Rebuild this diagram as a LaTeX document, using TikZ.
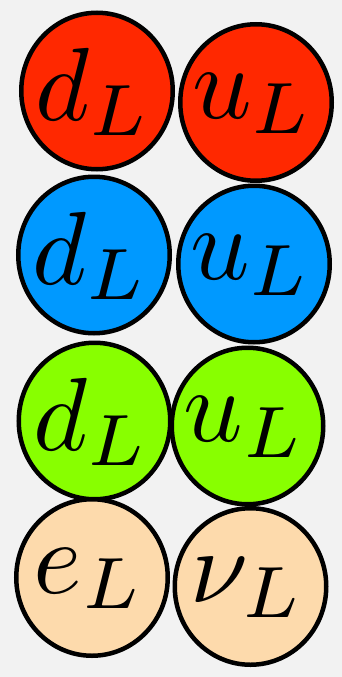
\documentclass[tikz,border=0pt]{standalone}
\usepackage{tikz}
\usetikzlibrary{shapes.geometric}
\definecolor{qred}{RGB}{255,40,0}
\definecolor{qblue}{RGB}{0,153,255}
\definecolor{qgreen}{RGB}{136,255,0}
\definecolor{lepton}{RGB}{253,218,172}
\definecolor{paper}{RGB}{242,242,242}
\newcommand\flav[1]{\scalebox{10.4}{$#1$}}

\begin{document}
\begin{tikzpicture}[x=1pt,y=-1pt,
  ball/.style={ellipse,draw=black,line width=4.5pt,minimum width=151.5pt,minimum height=156.5pt,inner sep=0pt},
  flavtext/.style={inner sep=0pt,xshift=-3pt,yshift=-1pt}]
  % one row per colour, leptons at the bottom
  \fill[paper] (0,0) rectangle (342,677);
  \useasboundingbox (0,0) rectangle (342,677);
  \foreach \n/\x/\y/\c/\lab in {d1/97/91/qred/d_L,u1/256/102.5/qred/u_L,d2/94/255/qblue/d_L,u2/254/264/qblue/u_L,d3/94.5/421/qgreen/d_L,u3/247.5/426/qgreen/u_L,e/92/577.5/lepton/e_L,nu/250.5/586.5/lepton/\nu_L} { \node[ball,fill=\c,label={[flavtext]center:\flav{\lab}}] (\n) at (\x,\y) {}; }
\end{tikzpicture}
\end{document}
